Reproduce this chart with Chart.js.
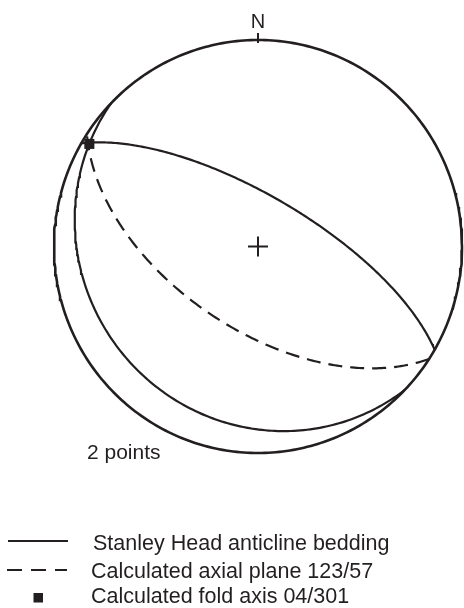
<!DOCTYPE html>
<html>
<head>
<meta charset="utf-8">
<script src="https://cdn.jsdelivr.net/npm/chart.js@4.4.1/dist/chart.umd.min.js"></script>
<style>
  html, body { margin: 0; padding: 0; background: #fff; overflow: hidden; }
  #wrap { width: 464px; height: 608px; position: relative; }
  #net { display: block; }
</style>
</head>
<body>
<div id="wrap"><canvas id="net" width="464" height="608"></canvas></div>
<script>
// Bedding planes, strike/dip (right-hand rule)
const beddingStrikes = [300, 134];
const beddingDips = [70, 17];
// Calculated axial plane, strike/dip
const axialStrikes = [123];
const axialDips = [57];
// Calculated fold axis, plunge/trend
const axisPlunges = [4];
const axisTrends = [301];

const legendLabels = [
  'Stanley Head anticline bedding',
  'Calculated axial plane 123/57',
  'Calculated fold axis 04/301'
];
const countLabel = '2 points';
const northLabel = 'N';

const INK = '#231f20';
const FONT = "'Liberation Sans', Arial, Helvetica, sans-serif";
const DEG = Math.PI / 180;

// Lower-hemisphere equal-area (Schmidt) projection of a line, unit primitive radius
function project(plunge, trend) {
  const r = Math.SQRT2 * Math.sin((90 - plunge) / 2 * DEG);
  return { x: r * Math.sin(trend * DEG), y: r * Math.cos(trend * DEG) };
}

// Trace of a plane: every line lying in it, from strike to the opposite strike
function greatCircle(strike, dip) {
  const s = strike * DEG, dd = (strike + 90) * DEG, d = dip * DEG;
  const pts = [];
  for (let t = 0; t <= 180; t += 1) {
    const a = t * DEG;
    const n = Math.cos(a) * Math.cos(s) + Math.sin(a) * Math.cos(d) * Math.cos(dd);
    const e = Math.cos(a) * Math.sin(s) + Math.sin(a) * Math.cos(d) * Math.sin(dd);
    const z = Math.sin(a) * Math.sin(d);
    const plunge = Math.asin(Math.min(1, Math.max(-1, z))) / DEG;
    const trend = Math.atan2(e, n) / DEG;
    pts.push(project(plunge, trend));
  }
  return pts;
}

function primitiveCircle() {
  const pts = [];
  for (let a = 0; a <= 360; a += 1) {
    pts.push({ x: Math.sin(a * DEG), y: Math.cos(a * DEG) });
  }
  return pts;
}

const lineStyle = { showLine: true, fill: false, pointRadius: 0, pointHoverRadius: 0, borderColor: INK, clip: false, tension: 0 };

const datasets = [
  Object.assign({ label: 'primitive', data: primitiveCircle(), borderWidth: 2.6 }, lineStyle)
];
beddingStrikes.forEach((s, i) => {
  datasets.push(Object.assign({ label: legendLabels[0], data: greatCircle(s, beddingDips[i]), borderWidth: 2.2 }, lineStyle));
});
axialStrikes.forEach((s, i) => {
  datasets.push(Object.assign({ label: legendLabels[1], data: greatCircle(s, axialDips[i]), borderWidth: 2.2, borderDash: [14, 8] }, lineStyle));
});
datasets.push({
  label: legendLabels[2],
  data: axisPlunges.map((p, i) => project(p, axisTrends[i])),
  showLine: false, pointStyle: 'rect', pointRadius: 7.1, pointBackgroundColor: INK, pointBorderColor: INK, pointBorderWidth: 0, clip: false
});
datasets.push({
  label: 'centre',
  data: [{ x: 0, y: 0 }],
  showLine: false, pointStyle: 'cross', pointRadius: 10, pointBorderColor: INK, pointBorderWidth: 2, clip: false
});

// North mark, point count and key
const annotations = {
  id: 'annotations',
  afterDatasetsDraw(chart) {
    const ctx = chart.ctx;
    const xs = chart.scales.x, ys = chart.scales.y;
    const cx = xs.getPixelForValue(0);
    const top = ys.getPixelForValue(1);
    ctx.save();
    ctx.strokeStyle = INK;
    ctx.fillStyle = INK;
    ctx.lineWidth = 2;
    ctx.beginPath();
    ctx.moveTo(cx, top - 7);
    ctx.lineTo(cx, top + 3);
    ctx.stroke();

    ctx.font = '20px ' + FONT;
    ctx.textAlign = 'center';
    ctx.textBaseline = 'alphabetic';
    ctx.fillText(northLabel, cx, top - 12);

    ctx.textAlign = 'left';
    ctx.font = '21px ' + FONT;
    ctx.fillText(countLabel, 87, 459);

    // key
    const rows = [549.5, 577.5, 603];
    ctx.font = '21.5px ' + FONT;
    ctx.lineWidth = 2.2;
    ctx.setLineDash([]);
    ctx.beginPath();
    ctx.moveTo(8, 541); ctx.lineTo(68, 541);
    ctx.stroke();
    ctx.setLineDash([15, 9]);
    ctx.beginPath();
    ctx.moveTo(7, 570); ctx.lineTo(67, 570);
    ctx.stroke();
    ctx.setLineDash([]);
    ctx.fillRect(33.5, 593, 9.5, 9.5);
    ctx.fillText(legendLabels[0], 93, rows[0]);
    ctx.fillText(legendLabels[1], 91, rows[1]);
    ctx.fillText(legendLabels[2], 91, rows[2]);
    ctx.restore();
  }
};

new Chart(document.getElementById('net'), {
  type: 'scatter',
  data: { datasets },
  options: {
    responsive: false,
    maintainAspectRatio: false,
    devicePixelRatio: 1,
    animation: false,
    events: [],
    layout: { autoPadding: false, padding: { left: 54, right: 2, top: 40, bottom: 155 } },
    plugins: { legend: { display: false }, tooltip: { enabled: false } },
    scales: {
      x: { type: 'linear', min: -1, max: 1, display: false },
      y: { type: 'linear', min: -1, max: 1, display: false }
    }
  },
  plugins: [annotations]
});
</script>
</body>
</html>
